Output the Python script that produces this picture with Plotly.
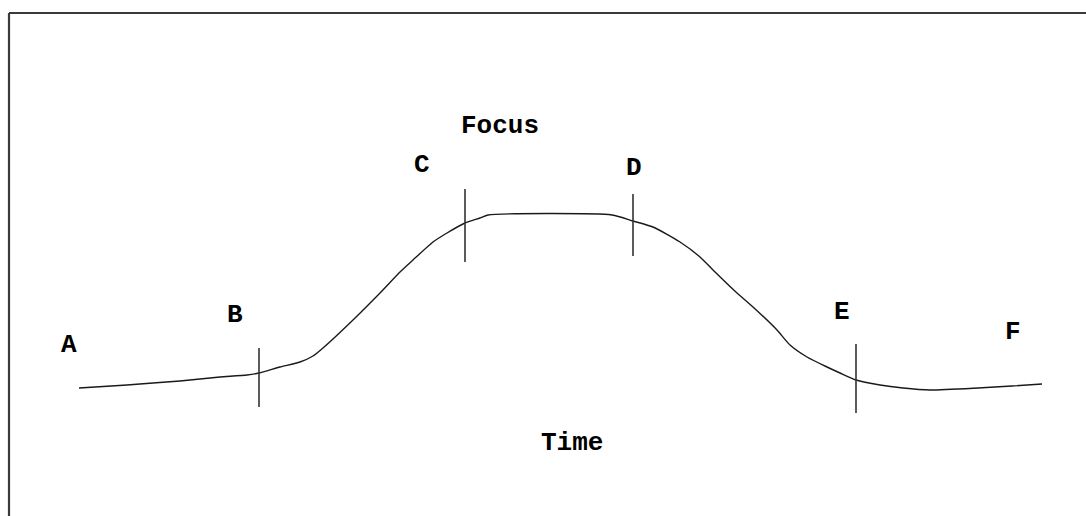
import plotly.graph_objects as go

# Curve (time vs focus)
time_vals = [79, 95, 127, 153, 180, 200, 220, 247, 259, 280, 300, 313, 323, 353, 380, 400,
             413, 433, 447, 465, 480, 488, 612, 633, 653, 680, 700, 713, 737, 753, 777, 790,
             807, 827, 840, 856, 880, 903, 930, 978, 1012, 1042]
focus_vals = [388, 387, 385, 383, 381, 379, 377, 375, 373, 367, 362, 356, 348, 320, 293, 272,
              260, 242, 233, 223, 218, 215, 215, 221, 227, 242, 257, 270, 293, 307, 330, 345,
              357, 367, 373, 380, 385, 388, 390, 388, 386, 384]

# Phase boundary ticks
tick_time = [259, 465, 633, 856]
tick_top = [348, 189, 194, 344]
tick_bottom = [407, 262, 256, 413]

# Point labels
label_text = ["A", "B", "C", "D", "E", "F"]
label_time = [69, 235, 422, 634, 842, 1013]
label_focus = [345, 315, 165, 168, 312, 332]

fig = go.Figure()

fig.add_trace(go.Scatter(x=time_vals, y=focus_vals, mode="lines",
                         line=dict(color="#1a1a1a", width=1.4, shape="spline", smoothing=0.6),
                         hoverinfo="skip", showlegend=False))

tx, ty = [], []
for t, a, b in zip(tick_time, tick_top, tick_bottom):
    tx += [t, t, None]
    ty += [a, b, None]
fig.add_trace(go.Scatter(x=tx, y=ty, mode="lines", line=dict(color="#333333", width=1.6),
                         hoverinfo="skip", showlegend=False))

font = dict(family="Liberation Mono", size=26, color="#000000")
for s, x, y in zip(label_text, label_time, label_focus):
    fig.add_annotation(x=x, y=y, text="<b>" + s + "</b>", showarrow=False, font=font)

fig.add_annotation(x=500, y=126, text="<b>Focus</b>", showarrow=False, font=font)
fig.add_annotation(x=572, y=443, text="<b>Time</b>", showarrow=False, font=font)

# Frame (top and left borders)
fig.add_shape(type="line", x0=9, x1=1086, y0=13, y1=13, line=dict(color="#3a3a3a", width=2.2))
fig.add_shape(type="line", x0=9, x1=9, y0=13, y1=516, line=dict(color="#3a3a3a", width=2.2))

fig.update_xaxes(range=[0, 1086], visible=False)
fig.update_yaxes(range=[516, 0], visible=False)
fig.update_layout(width=1086, height=516, margin=dict(l=0, r=0, t=0, b=0),
                  plot_bgcolor="white", paper_bgcolor="white", hovermode=False)

fig.write_html("out.html", config={"displayModeBar": False},
               post_script="document.body.style.margin='0px';")
